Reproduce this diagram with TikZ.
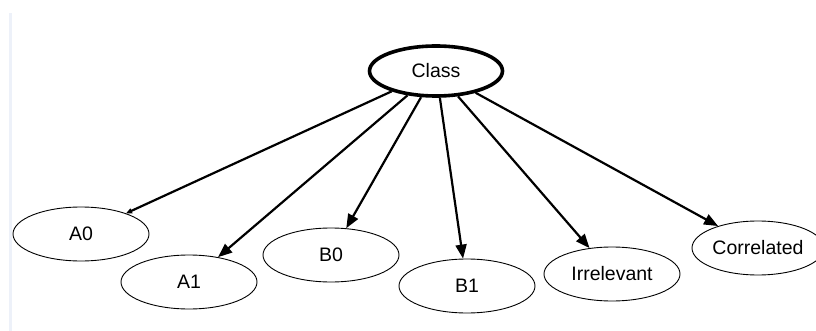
\documentclass[tikz,border=0pt]{standalone}
\usepackage{fontspec}
\setmainfont{Liberation Sans}
\usetikzlibrary{arrows.meta,shapes.geometric}
\definecolor{barblue}{HTML}{EDF1F9}
\begin{document}
\begin{tikzpicture}[x=1pt,y=-1pt,
  var/.style={ellipse, draw, line width=0.9pt, minimum width=136pt,
    minimum height=54pt, inner sep=0pt, font=\fontsize{19.5}{22}\selectfont},
  root/.style={var, line width=3.6pt, minimum width=133pt, minimum height=50pt},
  edge/.style={line width=2.2pt, -{Triangle[length=14pt,width=11pt]}},
  thinedge/.style={line width=2.2pt, -{Triangle[length=6pt,width=5pt]}},
  ]
\useasboundingbox (0,0) rectangle (816,331);
\clip (0,0) rectangle (816,331);
% page margin bar
\fill[barblue] (9,13) rectangle (12,331);

\node[root] (class) at (436,71) {Class};
\node[var] (a0) at (81,234) {A0};
\node[var] (a1) at (189,282) {A1};
\node[var] (b0) at (331,255) {B0};
\node[var] (b1) at (467,286) {B1};
\node[var] (irr) at (612,274) {Irrelevant};
\node[var, minimum width=132pt] (cor) at (758,248) {Correlated};

\draw[thinedge] (class) -- (a0);
\draw[edge] (class) -- (a1);
\draw[edge] (class) -- (b0);
\draw[edge] (class) -- (b1);
\draw[edge] (class) -- (irr);
\draw[edge] (class) -- (cor);
\end{tikzpicture}
\end{document}
